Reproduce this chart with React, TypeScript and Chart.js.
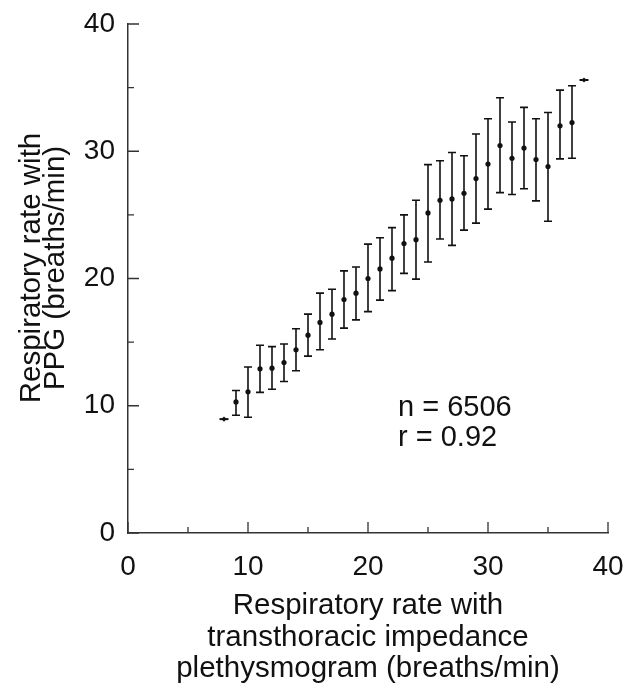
import React, { useEffect, useRef } from "react";
import { Chart, registerables } from "chart.js";

Chart.register(...registerables);

// Respiratory rate with transthoracic impedance plethysmogram (breaths/min)
const rateImpedance = [9, 10, 11, 12, 13, 14, 15, 16, 17, 18, 19, 20, 21, 22, 23, 24, 25, 26, 27, 28, 29, 30, 31, 32, 33, 34, 35, 36, 37];
// Respiratory rate with PPG: mean
const rateMean = [10.3, 11.1, 12.9, 12.95, 13.4, 14.4, 15.55, 16.55, 17.2, 18.35, 18.85, 20.0, 20.75, 21.6, 22.75, 23.05, 25.15, 26.15, 26.25, 26.7, 27.85, 29.0, 30.45, 29.45, 30.25, 29.35, 28.8, 32.0, 32.25];
// upper / lower ends of the error bars
const rateUpper = [11.2, 13.05, 14.75, 14.65, 14.85, 16.05, 17.2, 18.85, 19.15, 20.6, 20.9, 22.7, 23.2, 24.0, 25.0, 26.15, 28.95, 29.25, 29.9, 29.65, 31.35, 32.55, 34.2, 32.3, 33.45, 32.55, 33.05, 34.8, 35.15];
const rateLower = [9.25, 9.1, 11.05, 11.3, 11.9, 12.75, 13.9, 14.4, 15.25, 16.1, 16.75, 17.4, 18.3, 19.05, 20.4, 19.95, 21.3, 23.1, 22.6, 23.8, 24.35, 25.45, 26.75, 26.6, 27.05, 26.1, 24.5, 29.4, 29.45];
// extreme single points
const endX = [8, 38];
const endY = [8.95, 35.6];

const majorTicks = [0, 10, 20, 30, 40];
const minorTicks = [5, 15, 25, 35];
const annotationLines = ["n = 6506", "r = 0.92"];
const yTitleLines = ["Respiratory rate with", "PPG (breaths/min)"];
const xTitleLines = [
  "Respiratory rate with",
  "transthoracic impedance",
  "plethysmogram (breaths/min)",
];

const FONT = "'Liberation Sans', Arial, Helvetica, sans-serif";
const INK = "#111";

const errorBarPlugin = {
  id: "errorBars",
  beforeDatasetsDraw(chart: any) {
    const { ctx, scales } = chart;
    const x = scales.x;
    const y = scales.y;
    ctx.save();
    ctx.strokeStyle = INK;
    ctx.lineWidth = 1.6;
    rateImpedance.forEach((xv, i) => {
      const px = x.getPixelForValue(xv);
      const top = y.getPixelForValue(rateUpper[i]);
      const bot = y.getPixelForValue(rateLower[i]);
      ctx.beginPath();
      ctx.moveTo(px, top);
      ctx.lineTo(px, bot);
      ctx.moveTo(px - 4, top);
      ctx.lineTo(px + 4, top);
      ctx.moveTo(px - 4, bot);
      ctx.lineTo(px + 4, bot);
      ctx.stroke();
    });
    ctx.restore();
  },
};

const decorPlugin = {
  id: "decor",
  afterDraw(chart: any) {
    const { ctx, scales, chartArea } = chart;
    const x = scales.x;
    const y = scales.y;
    ctx.save();
    ctx.strokeStyle = "#333";
    ctx.lineWidth = 1.3;
    ctx.beginPath();
    majorTicks.forEach((v) => {
      const px = x.getPixelForValue(v);
      ctx.moveTo(px, chartArea.bottom);
      ctx.lineTo(px, chartArea.bottom - 11);
      const py = y.getPixelForValue(v);
      ctx.moveTo(chartArea.left, py);
      ctx.lineTo(chartArea.left + 11, py);
    });
    minorTicks.forEach((v) => {
      const px = x.getPixelForValue(v);
      ctx.moveTo(px, chartArea.bottom);
      ctx.lineTo(px, chartArea.bottom - 6);
      const py = y.getPixelForValue(v);
      ctx.moveTo(chartArea.left, py);
      ctx.lineTo(chartArea.left + 6, py);
    });
    ctx.stroke();

    // annotation text
    ctx.fillStyle = INK;
    ctx.font = `29px ${FONT}`;
    ctx.textAlign = "left";
    ctx.textBaseline = "middle";
    const tx = x.getPixelForValue(22.5);
    ctx.fillText(annotationLines[0], tx, y.getPixelForValue(9.8));
    ctx.fillText(annotationLines[1], tx, y.getPixelForValue(7.45));

    // y-axis title (rotated)
    ctx.font = `29.5px ${FONT}`;
    ctx.textAlign = "center";
    ctx.translate(0, 268);
    ctx.rotate(-Math.PI / 2);
    ctx.fillText(yTitleLines[0], 0, 32);
    ctx.fillText(yTitleLines[1], 0, 56);
    ctx.restore();
  },
};

export default function App() {
  const ref = useRef<HTMLCanvasElement | null>(null);

  useEffect(() => {
    document.body.style.margin = "0";
    const canvas = ref.current;
    if (!canvas) return;
    const chart = new Chart(canvas, {
      type: "scatter",
      data: {
        datasets: [
          {
            label: "mean",
            data: rateImpedance.map((xv, i) => ({ x: xv, y: rateMean[i] })),
            pointRadius: 2.6,
            pointBackgroundColor: INK,
            pointBorderColor: INK,
            pointBorderWidth: 0,
          },
          {
            label: "ends-dash",
            data: endX.map((xv, i) => ({ x: xv, y: endY[i] })),
            pointStyle: "line",
            pointRadius: 4.5,
            pointBorderColor: INK,
            pointBorderWidth: 2,
          },
          {
            label: "ends-dot",
            data: endX.map((xv, i) => ({ x: xv, y: endY[i] })),
            pointStyle: "rectRot",
            pointRadius: 2.6,
            pointBackgroundColor: INK,
            pointBorderColor: INK,
            pointBorderWidth: 0,
          },
        ],
      },
      options: {
        animation: false,
        responsive: false,
        maintainAspectRatio: false,
        layout: { padding: { left: 0, top: 24, right: 19, bottom: 0 } },
        plugins: {
          legend: { display: false },
          tooltip: { enabled: false },
        },
        scales: {
          x: {
            type: "linear",
            min: 0,
            max: 40,
            afterFit: (s: any) => {
              s.height = 150;
              s.paddingLeft = 0;
              s.paddingRight = 0;
            },
            afterBuildTicks: (s: any) => {
              s.ticks = majorTicks.map((v) => ({ value: v }));
            },
            grid: { display: false, drawTicks: false },
            border: { display: true, color: "#333", width: 1.5 },
            ticks: {
              color: INK,
              padding: 17,
              font: { family: FONT, size: 28 },
            },
            title: {
              display: true,
              text: xTitleLines,
              color: INK,
              font: { family: FONT, size: 29.5, lineHeight: 1.07 },
              padding: { top: 0, bottom: -2 },
            },
          },
          y: {
            type: "linear",
            min: 0,
            max: 40,
            afterFit: (s: any) => {
              s.width = 128;
              s.paddingTop = 0;
              s.paddingBottom = 0;
            },
            afterBuildTicks: (s: any) => {
              s.ticks = majorTicks.map((v) => ({ value: v }));
            },
            grid: { display: false, drawTicks: false },
            border: { display: true, color: "#333", width: 1.5 },
            ticks: {
              color: INK,
              padding: 13,
              font: { family: FONT, size: 28 },
            },
            title: { display: false },
          },
        },
      },
      plugins: [errorBarPlugin, decorPlugin],
    });
    return () => chart.destroy();
  }, []);

  return <canvas ref={ref} width={627} height={683} style={{ display: "block" }} />;
}
